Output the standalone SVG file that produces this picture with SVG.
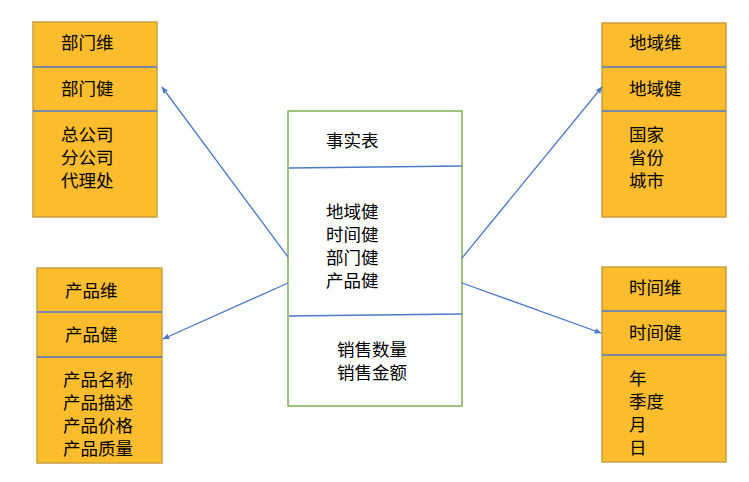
<svg xmlns="http://www.w3.org/2000/svg" width="749" height="482" viewBox="0 0 749 482">
<defs>
<style>
.dim{fill:#FBBD2E;stroke:#C9A040;stroke-width:1.5}
.div{stroke:#4A7AC8;stroke-width:1.5}
.fact{fill:#FFFFFF;stroke:#7CB350;stroke-width:1.5}
.conn{stroke:#4A7AC8;stroke-width:1.3;fill:none}
text{font-family:"Noto Sans CJK SC","Noto Sans",sans-serif;font-size:17.5px;fill:#000}
</style>
<marker id="ah" viewBox="0 0 10 10" refX="9" refY="5" markerWidth="7" markerHeight="7" orient="auto" markerUnits="userSpaceOnUse">
<path d="M0,1 L10,5 L0,9 Z" fill="#4A7AC8"/>
</marker>
</defs>
<rect width="749" height="482" fill="#FFFFFF"/>
<g id="dept">
<rect class="dim" x="33" y="22" width="124" height="195"/>
<line class="div" x1="33" y1="67" x2="157" y2="67"/>
<line class="div" x1="33" y1="111" x2="157" y2="111"/>
<text x="61" y="49">部门维</text>
<text x="61" y="95">部门健</text>
<text x="61" y="141">总公司</text>
<text x="61" y="164">分公司</text>
<text x="61" y="187">代理处</text>
</g>
<g id="product">
<rect class="dim" x="37" y="268" width="125" height="195"/>
<line class="div" x1="37" y1="312" x2="162" y2="312"/>
<line class="div" x1="37" y1="357" x2="162" y2="357"/>
<text x="65" y="297">产品维</text>
<text x="65" y="341">产品健</text>
<text x="63" y="386">产品名称</text>
<text x="63" y="409">产品描述</text>
<text x="63" y="432">产品价格</text>
<text x="63" y="455">产品质量</text>
</g>
<g id="region">
<rect class="dim" x="602" y="23" width="124" height="194"/>
<line class="div" x1="602" y1="67" x2="726" y2="67"/>
<line class="div" x1="602" y1="111" x2="726" y2="111"/>
<text x="629" y="49">地域维</text>
<text x="629" y="95">地域健</text>
<text x="629" y="141">国家</text>
<text x="629" y="164">省份</text>
<text x="629" y="187">城市</text>
</g>
<g id="time">
<rect class="dim" x="602" y="267" width="124" height="195"/>
<line class="div" x1="602" y1="311" x2="726" y2="311"/>
<line class="div" x1="602" y1="355" x2="726" y2="355"/>
<text x="629" y="294">时间维</text>
<text x="629" y="339">时间健</text>
<text x="629" y="385">年</text>
<text x="629" y="408">季度</text>
<text x="629" y="431">月</text>
<text x="629" y="454">日</text>
</g>
<g id="fact">
<rect class="fact" x="288" y="111" width="174" height="295"/>
<line class="div" x1="289" y1="168" x2="462" y2="166"/>
<line class="div" x1="289" y1="316" x2="462" y2="314"/>
<text x="326" y="147">事实表</text>
<text x="326" y="218">地域健</text>
<text x="326" y="241">时间健</text>
<text x="326" y="264">部门健</text>
<text x="326" y="287">产品健</text>
<text x="337" y="356">销售数量</text>
<text x="337" y="379">销售金额</text>
</g>
<g id="connectors">
<line class="conn" x1="288" y1="257" x2="162" y2="87" marker-end="url(#ah)"/>
<line class="conn" x1="288" y1="283" x2="163" y2="339" marker-end="url(#ah)"/>
<line class="conn" x1="462" y1="258" x2="602" y2="87" marker-end="url(#ah)"/>
<line class="conn" x1="462" y1="283" x2="601" y2="333" marker-end="url(#ah)"/>
</g>
</svg>
